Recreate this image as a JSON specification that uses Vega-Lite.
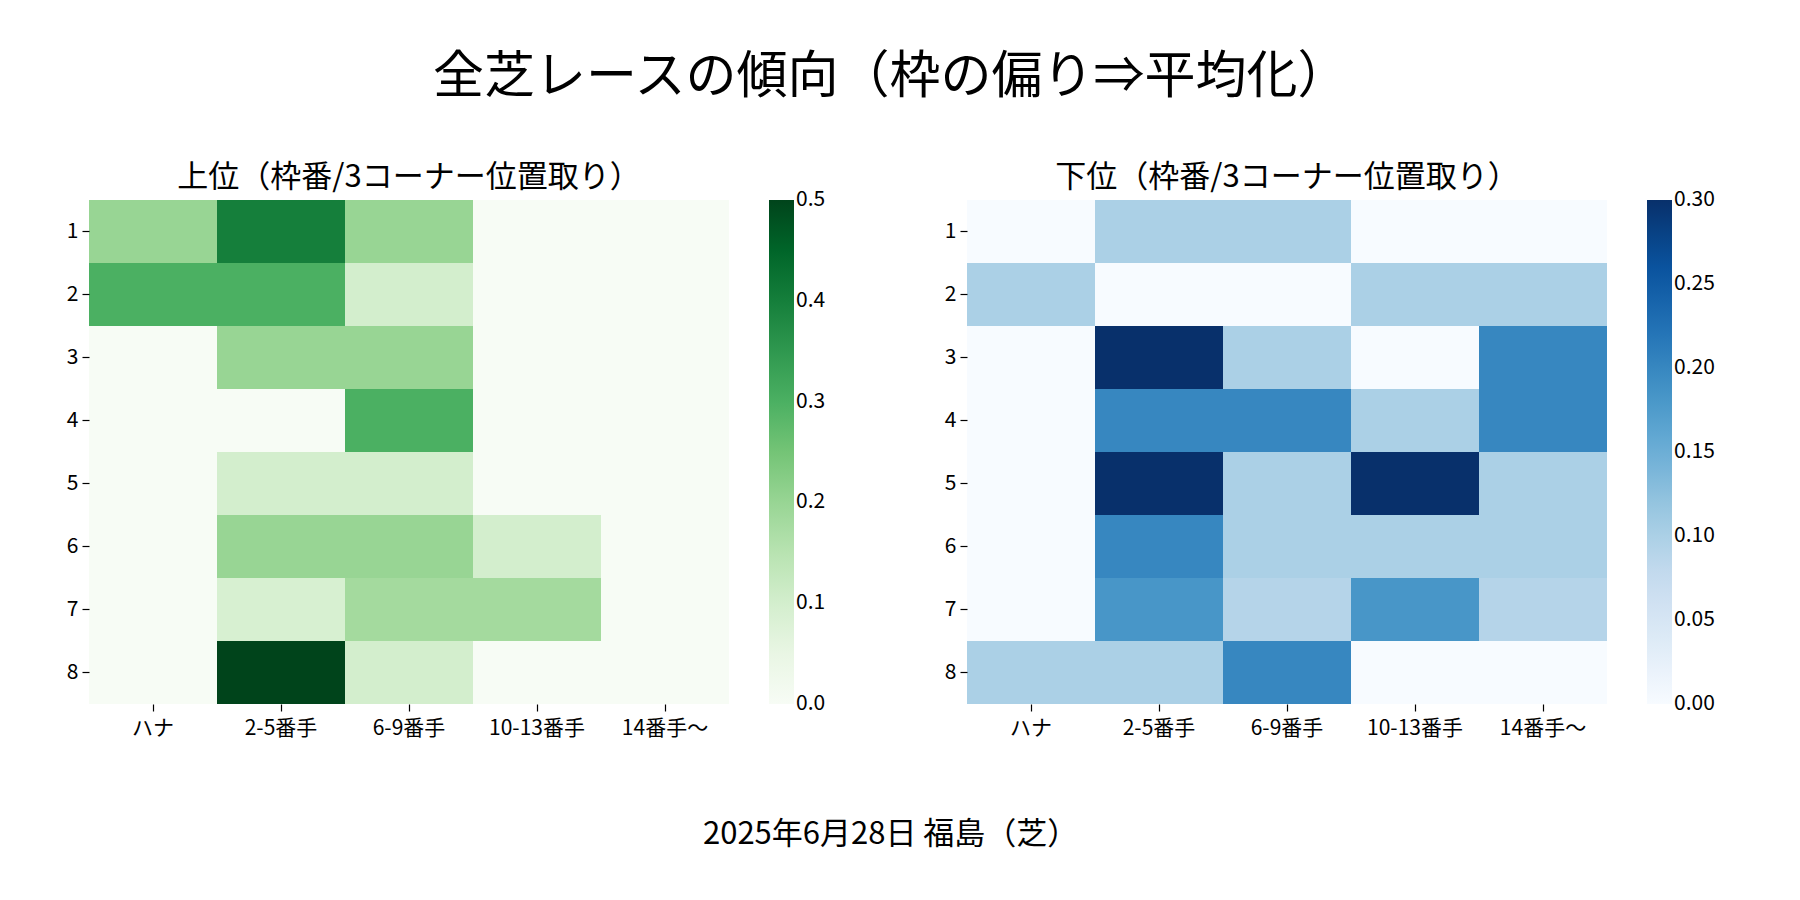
{
  "$schema": "https://vega.github.io/schema/vega-lite/v6.json",
  "padding": {"left": 66, "top": 52, "right": 30, "bottom": 30},
  "config": {
    "font": "Noto Sans CJK JP",
    "view": {"stroke": null},
    "axis": {"domain": false, "tickColor": "black", "tickSize": 7, "tickWidth": 1.2, "labelFontSize": 21, "labelColor": "black", "labelPadding": 4, "title": null, "grid": false},
    "axisX": {"labelPadding": 6},
    "legend": {"labelFontSize": 21, "labelColor": "black", "labelOffset": 12, "labelOverlap": false},
    "title": {"fontWeight": "normal", "color": "black"}
  },
  "datasets": {
    "cells": [
      {"g": "上位", "waku": 1, "pos": "ハナ", "v": 0.2},
      {"g": "上位", "waku": 1, "pos": "2-5番手", "v": 0.4},
      {"g": "上位", "waku": 1, "pos": "6-9番手", "v": 0.2},
      {"g": "上位", "waku": 1, "pos": "10-13番手", "v": 0},
      {"g": "上位", "waku": 1, "pos": "14番手〜", "v": 0},
      {"g": "上位", "waku": 2, "pos": "ハナ", "v": 0.3},
      {"g": "上位", "waku": 2, "pos": "2-5番手", "v": 0.3},
      {"g": "上位", "waku": 2, "pos": "6-9番手", "v": 0.1},
      {"g": "上位", "waku": 2, "pos": "10-13番手", "v": 0},
      {"g": "上位", "waku": 2, "pos": "14番手〜", "v": 0},
      {"g": "上位", "waku": 3, "pos": "ハナ", "v": 0},
      {"g": "上位", "waku": 3, "pos": "2-5番手", "v": 0.2},
      {"g": "上位", "waku": 3, "pos": "6-9番手", "v": 0.2},
      {"g": "上位", "waku": 3, "pos": "10-13番手", "v": 0},
      {"g": "上位", "waku": 3, "pos": "14番手〜", "v": 0},
      {"g": "上位", "waku": 4, "pos": "ハナ", "v": 0},
      {"g": "上位", "waku": 4, "pos": "2-5番手", "v": 0},
      {"g": "上位", "waku": 4, "pos": "6-9番手", "v": 0.3},
      {"g": "上位", "waku": 4, "pos": "10-13番手", "v": 0},
      {"g": "上位", "waku": 4, "pos": "14番手〜", "v": 0},
      {"g": "上位", "waku": 5, "pos": "ハナ", "v": 0},
      {"g": "上位", "waku": 5, "pos": "2-5番手", "v": 0.1},
      {"g": "上位", "waku": 5, "pos": "6-9番手", "v": 0.1},
      {"g": "上位", "waku": 5, "pos": "10-13番手", "v": 0},
      {"g": "上位", "waku": 5, "pos": "14番手〜", "v": 0},
      {"g": "上位", "waku": 6, "pos": "ハナ", "v": 0},
      {"g": "上位", "waku": 6, "pos": "2-5番手", "v": 0.2},
      {"g": "上位", "waku": 6, "pos": "6-9番手", "v": 0.2},
      {"g": "上位", "waku": 6, "pos": "10-13番手", "v": 0.1},
      {"g": "上位", "waku": 6, "pos": "14番手〜", "v": 0},
      {"g": "上位", "waku": 7, "pos": "ハナ", "v": 0},
      {"g": "上位", "waku": 7, "pos": "2-5番手", "v": 0.0909},
      {"g": "上位", "waku": 7, "pos": "6-9番手", "v": 0.1818},
      {"g": "上位", "waku": 7, "pos": "10-13番手", "v": 0.1818},
      {"g": "上位", "waku": 7, "pos": "14番手〜", "v": 0},
      {"g": "上位", "waku": 8, "pos": "ハナ", "v": 0},
      {"g": "上位", "waku": 8, "pos": "2-5番手", "v": 0.5},
      {"g": "上位", "waku": 8, "pos": "6-9番手", "v": 0.1},
      {"g": "上位", "waku": 8, "pos": "10-13番手", "v": 0},
      {"g": "上位", "waku": 8, "pos": "14番手〜", "v": 0},
      {"g": "下位", "waku": 1, "pos": "ハナ", "v": 0},
      {"g": "下位", "waku": 1, "pos": "2-5番手", "v": 0.1},
      {"g": "下位", "waku": 1, "pos": "6-9番手", "v": 0.1},
      {"g": "下位", "waku": 1, "pos": "10-13番手", "v": 0},
      {"g": "下位", "waku": 1, "pos": "14番手〜", "v": 0},
      {"g": "下位", "waku": 2, "pos": "ハナ", "v": 0.1},
      {"g": "下位", "waku": 2, "pos": "2-5番手", "v": 0},
      {"g": "下位", "waku": 2, "pos": "6-9番手", "v": 0},
      {"g": "下位", "waku": 2, "pos": "10-13番手", "v": 0.1},
      {"g": "下位", "waku": 2, "pos": "14番手〜", "v": 0.1},
      {"g": "下位", "waku": 3, "pos": "ハナ", "v": 0},
      {"g": "下位", "waku": 3, "pos": "2-5番手", "v": 0.3},
      {"g": "下位", "waku": 3, "pos": "6-9番手", "v": 0.1},
      {"g": "下位", "waku": 3, "pos": "10-13番手", "v": 0},
      {"g": "下位", "waku": 3, "pos": "14番手〜", "v": 0.2},
      {"g": "下位", "waku": 4, "pos": "ハナ", "v": 0},
      {"g": "下位", "waku": 4, "pos": "2-5番手", "v": 0.2},
      {"g": "下位", "waku": 4, "pos": "6-9番手", "v": 0.2},
      {"g": "下位", "waku": 4, "pos": "10-13番手", "v": 0.1},
      {"g": "下位", "waku": 4, "pos": "14番手〜", "v": 0.2},
      {"g": "下位", "waku": 5, "pos": "ハナ", "v": 0},
      {"g": "下位", "waku": 5, "pos": "2-5番手", "v": 0.3},
      {"g": "下位", "waku": 5, "pos": "6-9番手", "v": 0.1},
      {"g": "下位", "waku": 5, "pos": "10-13番手", "v": 0.3},
      {"g": "下位", "waku": 5, "pos": "14番手〜", "v": 0.1},
      {"g": "下位", "waku": 6, "pos": "ハナ", "v": 0},
      {"g": "下位", "waku": 6, "pos": "2-5番手", "v": 0.2},
      {"g": "下位", "waku": 6, "pos": "6-9番手", "v": 0.1},
      {"g": "下位", "waku": 6, "pos": "10-13番手", "v": 0.1},
      {"g": "下位", "waku": 6, "pos": "14番手〜", "v": 0.1},
      {"g": "下位", "waku": 7, "pos": "ハナ", "v": 0},
      {"g": "下位", "waku": 7, "pos": "2-5番手", "v": 0.1818},
      {"g": "下位", "waku": 7, "pos": "6-9番手", "v": 0.0909},
      {"g": "下位", "waku": 7, "pos": "10-13番手", "v": 0.1818},
      {"g": "下位", "waku": 7, "pos": "14番手〜", "v": 0.0909},
      {"g": "下位", "waku": 8, "pos": "ハナ", "v": 0.1},
      {"g": "下位", "waku": 8, "pos": "2-5番手", "v": 0.1},
      {"g": "下位", "waku": 8, "pos": "6-9番手", "v": 0.2},
      {"g": "下位", "waku": 8, "pos": "10-13番手", "v": 0},
      {"g": "下位", "waku": 8, "pos": "14番手〜", "v": 0}
    ]
  },
  "title": {"text": "全芝レースの傾向（枠の偏り⇒平均化）", "fontSize": 51, "anchor": "middle", "offset": 58},
  "vconcat": [
    {
      "title": {"text": "2025年6月28日 福島（芝）", "orient": "bottom", "anchor": "middle", "fontSize": 31, "offset": 82},
      "spacing": 118,
      "hconcat": [
        {
          "title": {"text": "上位（枠番/3コーナー位置取り）", "fontSize": 31, "frame": "group", "offset": 6},
          "width": 640,
          "height": 504,
          "data": {"name": "cells"},
          "transform": [{"filter": "datum.g === '上位'"}],
          "mark": "rect",
          "encoding": {
            "x": {"field": "pos", "type": "nominal", "sort": ["ハナ", "2-5番手", "6-9番手", "10-13番手", "14番手〜"], "scale": {"paddingInner": 0, "paddingOuter": 0}, "axis": {"labelAngle": 0}},
            "y": {"field": "waku", "type": "ordinal", "scale": {"paddingInner": 0, "paddingOuter": 0}},
            "color": {
              "field": "v", "type": "quantitative",
              "scale": {
                "domain": [0, 0.0625, 0.125, 0.1875, 0.25, 0.3125, 0.375, 0.4375, 0.5],
                "range": ["#f7fcf5", "#e5f5e0", "#c7e9c0", "#a1d99b", "#74c476", "#41ab5d", "#238b45", "#006d2c", "#00441b"],
                "interpolate": "rgb"
              },
              "legend": {
                "title": null, "direction": "vertical", "gradientLength": 504, "gradientThickness": 25, "offset": 40,
                "values": [0, 0.1, 0.2, 0.3, 0.4, 0.5], "format": ".1f",
                "encode": {"labels": {"enter": {"baseline": {"value": "middle"}}, "update": {"baseline": {"value": "middle"}}}}
              }
            }
          }
        },
        {
          "title": {"text": "下位（枠番/3コーナー位置取り）", "fontSize": 31, "frame": "group", "offset": 6},
          "width": 640,
          "height": 504,
          "data": {"name": "cells"},
          "transform": [{"filter": "datum.g === '下位'"}],
          "mark": "rect",
          "encoding": {
            "x": {"field": "pos", "type": "nominal", "sort": ["ハナ", "2-5番手", "6-9番手", "10-13番手", "14番手〜"], "scale": {"paddingInner": 0, "paddingOuter": 0}, "axis": {"labelAngle": 0}},
            "y": {"field": "waku", "type": "ordinal", "scale": {"paddingInner": 0, "paddingOuter": 0}},
            "color": {
              "field": "v", "type": "quantitative",
              "scale": {
                "domain": [0, 0.0375, 0.075, 0.1125, 0.15, 0.1875, 0.225, 0.2625, 0.3],
                "range": ["#f7fbff", "#deebf7", "#c6dbef", "#9ecae1", "#6baed6", "#4292c6", "#2171b5", "#08519c", "#08306b"],
                "interpolate": "rgb"
              },
              "legend": {
                "title": null, "direction": "vertical", "gradientLength": 504, "gradientThickness": 25, "offset": 40,
                "values": [0, 0.05, 0.1, 0.15, 0.2, 0.25, 0.3], "format": ".2f",
                "encode": {"labels": {"enter": {"baseline": {"value": "middle"}}, "update": {"baseline": {"value": "middle"}}}}
              }
            }
          }
        }
      ],
      "resolve": {"scale": {"color": "independent"}, "legend": {"color": "independent"}}
    }
  ],
  "resolve": {"scale": {"color": "independent"}, "legend": {"color": "independent"}}
}
